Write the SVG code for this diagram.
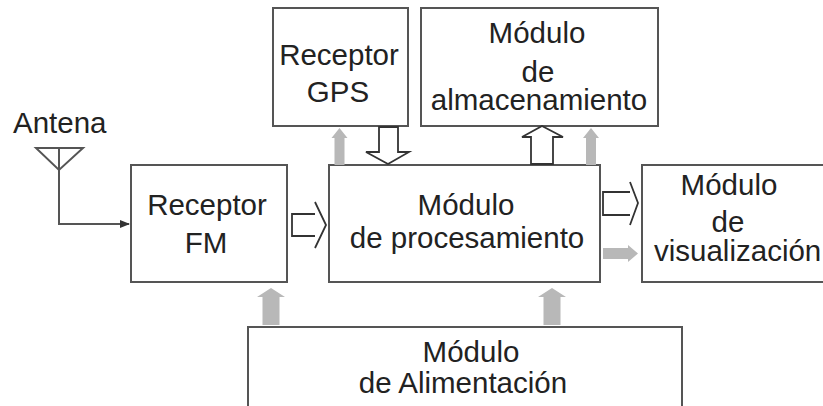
<svg xmlns="http://www.w3.org/2000/svg" width="823" height="406" viewBox="0 0 823 406">
<defs>
<style>
.box{fill:#fff;stroke:#555;stroke-width:2}
.t{font-family:"Liberation Sans",Arial,sans-serif;font-size:29.5px;fill:#222}
.m{text-anchor:middle}
.hol{fill:#fff;stroke:#333;stroke-width:1.8;stroke-linejoin:miter}
.gray{fill:#b8b8b8;stroke:none}
.wire{fill:none;stroke:#555;stroke-width:2}
</style>
<marker id="ah" markerWidth="10" markerHeight="8" refX="9" refY="4" orient="auto" markerUnits="userSpaceOnUse">
<path d="M0,0 L10,4 L0,8 Z" fill="#333"/>
</marker>
</defs>
<rect width="823" height="406" fill="#fff"/>

<g id="antena">
<text class="t" x="13" y="133">Antena</text>
<path class="wire" d="M36,148 H83 L59,170 Z M59,148 V224 H129" marker-end="url(#ah)"/>
</g>

<g id="receptor-fm">
<rect class="box" x="131" y="165" width="156" height="117"/>
<text class="t m" x="207" y="215">Receptor</text>
<text class="t m" x="206" y="253">FM</text>
</g>

<g id="receptor-gps">
<rect class="box" x="273" y="8" width="135" height="118"/>
<text class="t m" x="339" y="65">Receptor</text>
<text class="t m" x="338" y="102">GPS</text>
</g>

<g id="almacenamiento">
<rect class="box" x="421" y="8" width="237" height="118"/>
<text class="t m" x="537" y="43">Módulo</text>
<text class="t m" x="538" y="82">de</text>
<text class="t m" x="539" y="110">almacenamiento</text>
</g>

<g id="procesamiento">
<rect class="box" x="329" y="165" width="271" height="117"/>
<text class="t m" x="466" y="215">Módulo</text>
<text class="t m" x="467" y="248">de procesamiento</text>
</g>

<g id="visualizacion">
<rect class="box" x="642" y="165" width="190" height="117"/>
<text class="t m" x="729" y="195">Módulo</text>
<text class="t m" x="728" y="232">de</text>
<text class="t" x="654" y="261">visualización</text>
</g>

<g id="alimentacion">
<rect class="box" x="248" y="327" width="434" height="90"/>
<text class="t m" x="471" y="362">Módulo</text>
<text class="t m" x="463" y="393">de Alimentación</text>
</g>

<g id="connectors">
<!-- FM to procesamiento -->
<path class="hol" d="M315,214 H292 V236 H315 M315,202 L326,225 L315,248" fill="none"/>
<!-- GPS to procesamiento -->
<polygon class="hol" points="379,127 398,127 398,152 409,152 388,164 366,152 379,152"/>
<!-- procesamiento to almacenamiento -->
<polygon class="hol" points="531,164 531,137 522,137 542,126 563,137 553,137 553,164"/>
<!-- procesamiento to visualizacion -->
<path class="hol" d="M630,192 H603 V215 H630 M630,182 L638,203 L630,225" fill="none"/>
<!-- gray arrows -->
<polygon class="gray" points="334.5,165 334.5,138 331.5,138 339.5,128 347.5,138 344.5,138 344.5,165"/>
<polygon class="gray" points="586,165 586,138 583,138 591,128 599,138 596,138 596,165"/>
<polygon class="gray" points="603,248 628,248 628,245 638,253.5 628,262 628,259 603,259"/>
<polygon class="gray" points="262.5,325 262.5,297 257,297 271,288 285,297 279.5,297 279.5,325"/>
<polygon class="gray" points="543.5,325 543.5,297 538,297 552,288 566,297 560.5,297 560.5,325"/>
</g>
</svg>
